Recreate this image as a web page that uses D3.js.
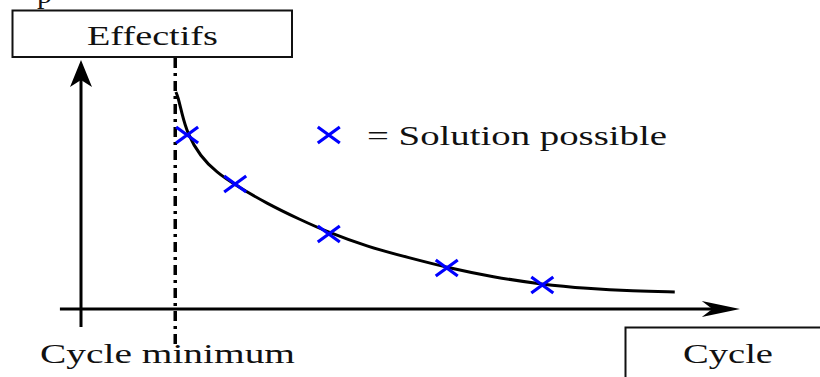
<!DOCTYPE html>
<html><head><meta charset="utf-8">
<script src="https://cdn.jsdelivr.net/npm/d3@7"></script>
<style>html,body{margin:0;padding:0;background:#fff;overflow:hidden}</style>
</head><body>
<script>
// Data (arbitrary units: cycle on x, effectifs on y)
const cycleMin = 1.43;
const curveCycle = [1.44,1.47,1.53,1.61,1.81,2.06,2.34,2.82,3.32,3.76,4.34,4.99,5.55,6.25,7.0,7.68,8.38,9.01];
const curveEff   = [8.68,8.50,7.84,7.04,6.10,5.46,4.96,4.22,3.58,3.06,2.50,2.04,1.66,1.28,0.98,0.82,0.72,0.68];
const solCycle = [1.61,2.34,3.76,5.55,7.0];
const solEff   = [6.96,5.0,3.0,1.64,0.96];
const labels = {y:"Effectifs", x:"Cycle", min:"Cycle minimum", legend:"= Solution possible"};

const W=820,H=377;
const svg=d3.select("body").append("svg").attr("width",W).attr("height",H);
const x=d3.scaleLinear().domain([0,10]).range([81,740]);
const y=d3.scaleLinear().domain([0,10]).range([309,59]);
const font="'Liberation Serif','Times New Roman',serif";

function txt(t,xx,yy,len,anchor){
  return svg.append("text").attr("x",xx).attr("y",yy).attr("text-anchor",anchor||"start")
    .attr("font-family",font).attr("font-size",27).attr("fill","#111")
    .attr("textLength",len).attr("lengthAdjust","spacingAndGlyphs").text(t);
}

// cropped glyph at top (text continuing above the frame)
svg.append("text").attr("x",37).attr("y",3).attr("font-family",font).attr("font-size",27)
  .attr("textLength",15).attr("lengthAdjust","spacingAndGlyphs").attr("fill","#111").text("p");

// Effectifs box
svg.append("rect").attr("x",12.5).attr("y",10.5).attr("width",279.5).attr("height",46.5)
  .attr("fill","none").attr("stroke","#111").attr("stroke-width",2);
txt(labels.y,87,45,131);

// Cycle box
svg.append("rect").attr("x",625.5).attr("y",327.5).attr("width",220).attr("height",80)
  .attr("fill","none").attr("stroke","#111").attr("stroke-width",2);
txt(labels.x,683,363,90);

// Y axis
const yAx=x(0);
svg.append("line").attr("x1",yAx).attr("x2",yAx).attr("y1",y(-0.72)).attr("y2",y(9.7))
  .attr("stroke","#000").attr("stroke-width",3);
svg.append("path").attr("d",`M${yAx},${y(9.96)} L${yAx+11},${y(8.88)} L${yAx},${y(9.16)} L${yAx-11},${y(8.88)} Z`)
  .attr("fill","#000");
// X axis
const xAx=y(0);
svg.append("line").attr("x1",x(-0.32)).attr("x2",x(9.7)).attr("y1",xAx).attr("y2",xAx)
  .attr("stroke","#000").attr("stroke-width",3);
svg.append("path").attr("d",`M${x(10)},${xAx} L${x(9.42)},${xAx-8} L${x(9.58)},${xAx} L${x(9.42)},${xAx+8} Z`)
  .attr("fill","#000");

// Cycle minimum dash-dot
svg.append("line").attr("x1",x(cycleMin)).attr("x2",x(cycleMin)).attr("y1",y(10.04)).attr("y2",y(-1.52))
  .attr("stroke","#000").attr("stroke-width",3.5).attr("stroke-dasharray","10,5,3,5");

// Curve
const pts=curveCycle.map((c,i)=>[c,curveEff[i]]);
svg.append("path").datum(pts)
  .attr("d",d3.line().x(d=>x(d[0])).y(d=>y(d[1])).curve(d3.curveBasis))
  .attr("fill","none").attr("stroke","#000").attr("stroke-width",3);

// Crosses
function cross(g,cx,cy){
  g.append("path").attr("d",`M${cx-11},${cy-8}L${cx+11},${cy+8}M${cx-11},${cy+8}L${cx+11},${cy-8}`)
   .attr("stroke","#0000ff").attr("stroke-width",3.2).attr("fill","none");
}
solCycle.forEach((c,i)=>cross(svg,x(c),y(solEff[i])));

// Legend
cross(svg,x(3.76),y(6.96));
txt(labels.legend,367,145,300);

// Cycle minimum label
txt(labels.min,40,363,255);
</script>
</body></html>
